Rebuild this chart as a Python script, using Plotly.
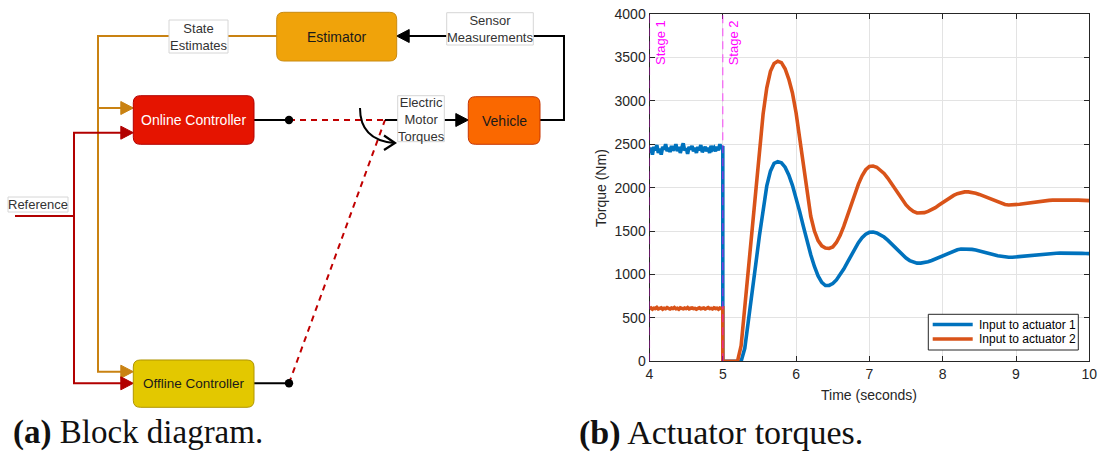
import plotly.graph_objects as go

# ---------------- data ----------------
t_stage1_start = 4.0
t_stage2_start = 5.0

# Stage 1 (4.0 .. 5.0 s, every 0.02 s)
pre_times = [round(4.0 + 0.02 * i, 2) for i in range(51)]
act1_pre = [2400, 2460, 2380, 2470, 2430, 2490, 2400, 2450, 2380, 2470,
            2440, 2500, 2420, 2460, 2410, 2480, 2430, 2450, 2500, 2420,
            2470, 2400, 2460, 2510, 2430, 2450, 2390, 2470, 2440, 2480,
            2420, 2460, 2400, 2470, 2430, 2490, 2410, 2450, 2470, 2420,
            2460, 2400, 2480, 2440, 2460, 2420, 2470, 2430, 2500, 2450, 2480]
act2_pre = [605, 615, 600, 612, 608, 620, 603, 610, 615, 600,
            612, 606, 618, 610, 602, 614, 608, 620, 605, 611,
            600, 616, 609, 604, 613, 607, 619, 603, 611, 615,
            606, 610, 600, 612, 617, 605, 609, 614, 602, 611,
            618, 606, 610, 603, 615, 608, 612, 600, 614, 609, 612]

# Stage 2 (5.0 .. 10.0 s, every 0.05 s)
post_times = [round(5.0 + 0.05 * i, 2) for i in range(101)]
act1_post = [0, 0, 0, 0, 0, 0, 150, 450, 780, 1120,
             1450, 1760, 2020, 2190, 2280, 2300, 2287, 2236, 2147, 2027,
             1881, 1721, 1551, 1383, 1228, 1092, 984, 909, 873, 874,
             896, 937, 994, 1063, 1140, 1220, 1297, 1366, 1423, 1464,
             1486, 1489, 1479, 1460, 1431, 1395, 1354, 1310, 1266, 1225,
             1189, 1160, 1141, 1131, 1131, 1136, 1147, 1161, 1179, 1198,
             1219, 1239, 1257, 1273, 1285, 1293, 1295, 1294, 1289, 1282,
             1273, 1262, 1250, 1238, 1227, 1216, 1208, 1202, 1198, 1199,
             1203, 1208, 1214, 1220, 1226, 1231, 1235, 1238, 1241, 1243,
             1244, 1245, 1246, 1247, 1247, 1246, 1245, 1244, 1243, 1241, 1240]
act2_post = [0, 0, 0, 0, 0, 180, 630, 1080, 1530, 1980,
             2430, 2850, 3150, 3340, 3430, 3455, 3440, 3370, 3250, 3090,
             2860, 2560, 2230, 1920, 1670, 1500, 1390, 1330, 1305, 1300,
             1317, 1368, 1448, 1553, 1673, 1801, 1927, 2041, 2136, 2206,
             2244, 2249, 2235, 2205, 2163, 2110, 2049, 1984, 1919, 1857,
             1801, 1757, 1725, 1708, 1705, 1712, 1726, 1746, 1770, 1799,
             1829, 1858, 1887, 1911, 1931, 1945, 1951, 1951, 1946, 1936,
             1922, 1905, 1886, 1866, 1847, 1830, 1816, 1806, 1801, 1800,
             1803, 1808, 1814, 1821, 1828, 1835, 1841, 1846, 1850, 1853,
             1856, 1858, 1859, 1860, 1860, 1859, 1858, 1856, 1855, 1852, 1850]

assert len(pre_times) == len(act1_pre) == len(act2_pre)
assert len(post_times) == len(act1_post) == len(act2_post)

series_names = ["Input to actuator 1", "Input to actuator 2"]
stage_labels = ["Stage 1", "Stage 2"]
x_ticks = [4, 5, 6, 7, 8, 9, 10]
y_ticks = [0, 500, 1000, 1500, 2000, 2500, 3000, 3500, 4000]

times = pre_times + post_times
act1 = act1_pre + act1_post
act2 = act2_pre + act2_post

# ---------------- figure ----------------
W, H = 1099, 452


def X(px):
    return px / W


def Y(py):
    return 1 - py / H


BLUE = "#0072BD"
ORANGE = "#D95319"
MAG = "#FF00FF"
series_colors = [BLUE, ORANGE]

fig = go.Figure()
for vals, name, col in zip([act1, act2], series_names, series_colors):
    fig.add_trace(go.Scatter(x=times, y=vals, mode="lines", name=name,
                             line=dict(color=col, width=3.6), showlegend=False))

shapes = []
annots = []

# stage lines
for ts, lab in zip([t_stage1_start, t_stage2_start], stage_labels):
    shapes.append(dict(type="line", xref="x", yref="y", x0=ts, x1=ts, y0=0, y1=4000,
                       line=dict(color="rgba(255,0,255,0.6)", width=1.2, dash="8px,5px"),
                       layer="above"))
    annots.append(dict(text=lab, x=ts, xref="x", y=Y(42.5), yref="paper", xshift=11,
                       textangle=-90, showarrow=False, xanchor="center", yanchor="middle",
                       font=dict(family="Liberation Sans", size=13, color=MAG)))

# axis titles
annots.append(dict(text="Torque (Nm)", x=X(601), y=Y(188), xref="paper", yref="paper",
                   textangle=-90, showarrow=False, xanchor="center", yanchor="middle",
                   font=dict(family="Liberation Sans", size=14, color="#262626")))
annots.append(dict(text="Time (seconds)", x=X(869.4), y=Y(395), xref="paper", yref="paper",
                   showarrow=False, xanchor="center", yanchor="middle",
                   font=dict(family="Liberation Sans", size=14, color="#262626")))

# legend (MATLAB style box, drawn inside the axes)
shapes.append(dict(type="rect", xref="paper", yref="paper",
                   x0=X(928.3), x1=X(1078.3), y0=Y(350), y1=Y(314.3),
                   fillcolor="white", line=dict(color="#262626", width=1), layer="above"))
for i, (name, col) in enumerate(zip(series_names, series_colors)):
    yy = 324.5 + 14.5 * i
    shapes.append(dict(type="line", xref="paper", yref="paper",
                       x0=X(932.7), x1=X(972.7), y0=Y(yy), y1=Y(yy),
                       line=dict(color=col, width=3.6), layer="above"))
    annots.append(dict(text=name, x=X(976.5), y=Y(yy), xref="paper", yref="paper",
                       showarrow=False, xanchor="left", yanchor="middle",
                       font=dict(family="Liberation Sans", size=12, color="#000000")))

# ---------------- block diagram (left panel) ----------------
OR_LINE = "#C98212"
RED_LINE = "#B20000"
BLACK = "#000000"


def path_px(points, close=False):
    s = "M " + " L ".join(f"{X(a):.5f},{Y(b):.5f}" for a, b in points)
    if close:
        s += " Z"
    return s


def polyline(points, color, width=2, dash=None):
    d = dict(type="path", xref="paper", yref="paper", path=path_px(points),
             line=dict(color=color, width=width))
    if dash:
        d["line"]["dash"] = dash
    shapes.append(d)


def tri_right(tx, ty, color, L=12.5, h=6.5):
    shapes.append(dict(type="path", xref="paper", yref="paper",
                       path=path_px([(tx, ty), (tx - L, ty - h), (tx - L, ty + h)], close=True),
                       fillcolor=color, line=dict(color=color, width=1)))


def tri_left(tx, ty, color, L=12.5, h=6.5):
    shapes.append(dict(type="path", xref="paper", yref="paper",
                       path=path_px([(tx, ty), (tx + L, ty - h), (tx + L, ty + h)], close=True),
                       fillcolor=color, line=dict(color=color, width=1)))


def rrect(x0, y0, x1, y1, fill, stroke, r=7):
    rx, ry = r / W, r / H
    a0, a1 = X(x0), X(x1)
    b0, b1 = Y(y0), Y(y1)  # b0 top (larger), b1 bottom
    p = (f"M {a0+rx:.5f},{b0:.5f} L {a1-rx:.5f},{b0:.5f} Q {a1:.5f},{b0:.5f} {a1:.5f},{b0-ry:.5f} "
         f"L {a1:.5f},{b1+ry:.5f} Q {a1:.5f},{b1:.5f} {a1-rx:.5f},{b1:.5f} "
         f"L {a0+rx:.5f},{b1:.5f} Q {a0:.5f},{b1:.5f} {a0:.5f},{b1+ry:.5f} "
         f"L {a0:.5f},{b0-ry:.5f} Q {a0:.5f},{b0:.5f} {a0+rx:.5f},{b0:.5f} Z")
    shapes.append(dict(type="path", xref="paper", yref="paper", path=p,
                       fillcolor=fill, line=dict(color=stroke, width=1)))


def label_box(x0, y0, x1, y1):
    shapes.append(dict(type="rect", xref="paper", yref="paper",
                       x0=X(x0), x1=X(x1), y0=Y(y1), y1=Y(y0),
                       fillcolor="white", line=dict(color="#D6D6D6", width=1)))


def text(t, cx, cy, size=13, color="#333333", family="Liberation Sans"):
    annots.append(dict(text=t, x=X(cx), y=Y(cy), xref="paper", yref="paper",
                       showarrow=False, xanchor="center", yanchor="middle",
                       font=dict(family=family, size=size, color=color)))


def dot(cx, cy, r=4.2):
    shapes.append(dict(type="circle", xref="paper", yref="paper",
                       x0=X(cx - r), x1=X(cx + r), y0=Y(cy + r), y1=Y(cy - r),
                       fillcolor=BLACK, line=dict(color=BLACK, width=0)))


y_on = 120.0      # online controller centre line
y_off = 383.3     # offline controller (red input / output)
y_off_or = 371.7  # offline orange input
y_top = 36.0

# orange: state estimates
polyline([(277, y_top), (98, y_top), (98, y_off_or), (121, y_off_or)], OR_LINE)
polyline([(98, 108), (121, 108)], OR_LINE)
tri_right(133.3, 108, OR_LINE)
tri_right(133.3, y_off_or, OR_LINE)

# red: reference
polyline([(15, 216), (74, 216)], RED_LINE)
polyline([(121, 132.7), (74, 132.7), (74, y_off), (121, y_off)], RED_LINE)
tri_right(133.3, 132.7, RED_LINE)
tri_right(133.3, y_off, RED_LINE)

# controller outputs
polyline([(254, y_on), (289, y_on)], BLACK)
polyline([(254, y_off), (289, y_off)], BLACK)
polyline([(289, y_on), (385, y_on)], "#C00000", width=2, dash="6px,5px")
polyline([(289, y_off), (385, y_on)], "#C00000", width=2, dash="6px,5px")
polyline([(385, y_on), (398, y_on)], BLACK)
dot(289, y_on)
dot(289, y_off)

# switch arrow (curved)
shapes.append(dict(type="path", xref="paper", yref="paper",
                   path=f"M {X(360):.5f},{Y(108):.5f} Q {X(360):.5f},{Y(140):.5f} {X(394):.5f},{Y(143):.5f}",
                   line=dict(color=BLACK, width=2)))
polyline([(384, 135.5), (395, 143), (384, 150)], BLACK, width=2.2)

# torques -> vehicle
polyline([(444, y_on), (456, y_on)], BLACK)
tri_right(468.3, y_on, BLACK)

# vehicle -> estimator (sensor feedback)
polyline([(540, y_on), (564, y_on), (564, y_top), (409, y_top)], BLACK)
tri_left(396.7, y_top, BLACK)

# blocks
rrect(276.7, 12.3, 396.7, 61, "#F0A30A", "#C98A10")
rrect(133.3, 95.7, 254, 144.3, "#E51400", "#B20000")
rrect(468.3, 96.7, 540, 144.3, "#FA6800", "#C73500")
rrect(133.3, 360, 254, 407.3, "#E3C800", "#B09500")
text("Estimator", 336.7, 36.5, size=14, color="#1a1a1a")
text("Online Controller", 193.7, 120, size=14, color="#FFFFFF")
text("Vehicle", 504.2, 120.5, size=14, color="#1a1a1a")
text("Offline Controller", 193.7, 383.7, size=13.5, color="#1a1a1a")

# edge labels
label_box(169, 20, 228, 53)
text("State<br>Estimates", 198.5, 36.5)
label_box(446.7, 12.7, 533.3, 45)
text("Sensor<br>Measurements", 490, 29)
label_box(397.7, 95.7, 444.3, 141.7)
text("Electric<br>Motor<br>Torques", 421, 119)
label_box(8, 197, 68, 212)
text("Reference", 38, 204.5)

# captions
annots.append(dict(text="<b>(a)</b> Block diagram.", x=X(11), y=Y(432.5), xref="paper", yref="paper",
                   showarrow=False, xanchor="left", yanchor="middle",
                   font=dict(family="Liberation Serif", size=33, color="#111111")))
annots.append(dict(text="<b>(b)</b> Actuator torques.", x=X(577), y=Y(432.5), xref="paper", yref="paper",
                   showarrow=False, xanchor="left", yanchor="middle",
                   font=dict(family="Liberation Serif", size=34, color="#111111")))

axis_common = dict(showgrid=True, gridcolor="#E3E3E3", gridwidth=1, showline=True,
                   linecolor="#262626", linewidth=1, mirror="ticks", ticks="inside",
                   ticklen=5, tickcolor="#262626", zeroline=False, automargin=False,
                   tickfont=dict(family="Liberation Sans", size=14, color="#262626"))

fig.update_layout(
    width=W, height=H, autosize=False,
    margin=dict(l=0, r=0, t=0, b=0, pad=0, autoexpand=False),
    paper_bgcolor="white", plot_bgcolor="white",
    font=dict(family="Liberation Sans"),
    xaxis=dict(domain=[X(649.5), X(1089.3)], range=[4, 10], tickvals=x_ticks, **axis_common),
    yaxis=dict(domain=[Y(361.3), Y(14)], range=[0, 4000], tickvals=y_ticks, **axis_common),
    shapes=shapes,
    annotations=annots,
    showlegend=False,
)

fig.write_html("out.html", config={"displayModeBar": False},
               post_script="document.body.style.margin='0';document.body.style.overflow='hidden';")
